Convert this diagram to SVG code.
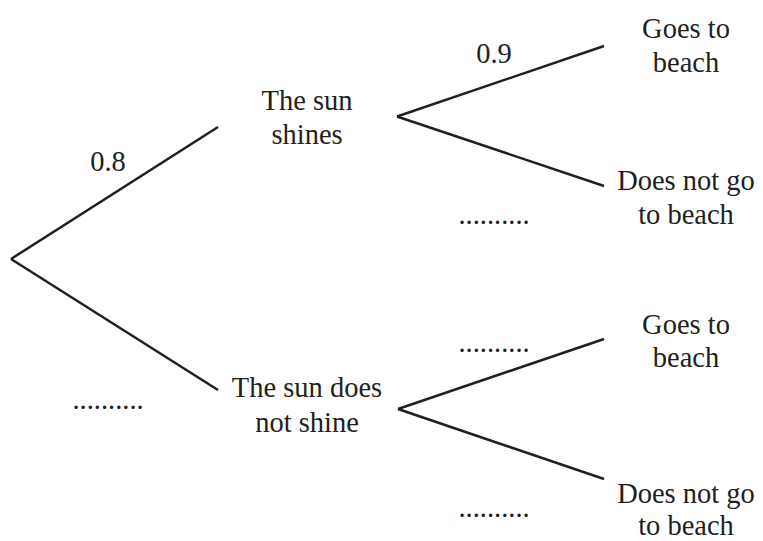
<svg xmlns="http://www.w3.org/2000/svg" width="763" height="541" viewBox="0 0 763 541" font-family="Liberation Serif" font-size="28.5">
<style>
  text { fill: #231f20; }
  .c { text-anchor: middle; }
  .edge { stroke: #231f20; stroke-width: 2.5; fill: none; stroke-linecap: butt; }
</style>
<rect width="763" height="541" fill="#ffffff"/>
<g id="connectors">
  <line class="edge" x1="11" y1="259" x2="218" y2="127"/>
  <line class="edge" x1="11" y1="259" x2="218" y2="390"/>
  <line class="edge" x1="397" y1="116.5" x2="604" y2="46"/>
  <line class="edge" x1="397" y1="116.5" x2="604" y2="186"/>
  <line class="edge" x1="398" y1="409" x2="604" y2="339"/>
  <line class="edge" x1="398" y1="409" x2="604" y2="479"/>
</g>
<g id="labels">
  <text x="108" y="171" class="c">0.8</text>
  <text x="494" y="63" class="c">0.9</text>
  <text x="494" y="224" class="c">..........</text>
  <text x="494" y="352" class="c">..........</text>
  <text x="494" y="517" class="c">..........</text>
  <text x="108" y="409" class="c">..........</text>
</g>
<g id="sun-shines">
  <text x="307" y="110" class="c">The sun</text>
  <text x="307" y="144" class="c">shines</text>
</g>
<g id="sun-not-shine">
  <text x="307" y="397" class="c">The sun does</text>
  <text x="307" y="432" class="c">not shine</text>
</g>
<g id="beach-1">
  <text x="686" y="38" class="c">Goes to</text>
  <text x="686" y="72" class="c">beach</text>
</g>
<g id="nobeach-1">
  <text x="686" y="190" class="c">Does not go</text>
  <text x="686" y="224" class="c">to beach</text>
</g>
<g id="beach-2">
  <text x="686" y="334" class="c">Goes to</text>
  <text x="686" y="367" class="c">beach</text>
</g>
<g id="nobeach-2">
  <text x="686" y="503" class="c">Does not go</text>
  <text x="686" y="535" class="c">to beach</text>
</g>
</svg>
